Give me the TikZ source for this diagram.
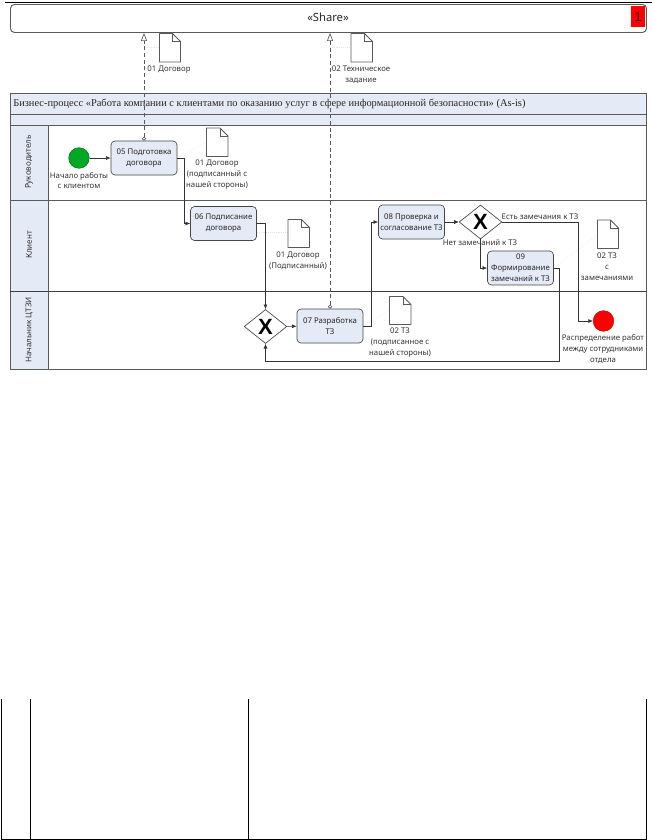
\documentclass[tikz,border=0pt]{standalone}
\usepackage{fontspec}
\setmainfont{Noto Sans}
\newfontfamily\titlefont{Liberation Serif}
\newfontfamily\gatefont{Liberation Sans}
\newfontfamily\numfont{Liberation Sans}
\usetikzlibrary{arrows.meta,shapes.geometric}
\definecolor{band}{RGB}{229,235,246}
\definecolor{task}{RGB}{228,234,246}
\definecolor{ln}{RGB}{70,70,70}
\definecolor{frame}{RGB}{90,90,90}
\tikzset{
  x=0.75pt,y=-0.75pt,
  txt/.style={font=\fontsize{5.85}{8.2}\selectfont,align=center,inner sep=0pt,text=black!80},
  taskbox/.style={draw=ln,fill=task,rounded corners=3pt,line width=.5pt,minimum width=49.5pt,minimum height=25.5pt,inner sep=0pt,align=center,font=\fontsize{5.85}{8.2}\selectfont,text=black!85},
  gate/.style={diamond,draw=ln,fill=white,line width=.5pt,minimum width=32pt,minimum height=25.5pt,inner sep=0pt,aspect=1.26},
  gatex/.style={font=\gatefont\bfseries\fontsize{16.5}{17}\selectfont,inner sep=0pt,text=black},
  flow/.style={draw=black!80,line width=.45pt,-{Latex[length=3.5pt,width=3pt]}},
  msg/.style={draw=black!65,line width=.5pt,dashed,dash pattern=on 3pt off 2pt,{Circle[open,length=3pt,width=3pt,fill=white]}-{Triangle[open,length=6pt,width=4.5pt,fill=white]}},
  assoc/.style={draw=black!10,line width=.4pt,densely dotted},
  lane/.style={draw=frame,line width=.7pt},
  header/.style={draw=frame,fill=band,line width=.7pt},
  rot/.style={rotate=90,font=\fontsize{6}{8}\selectfont,inner sep=0pt,text=black!80},
  tbl/.style={draw=black,line width=.7pt},
}
\newcommand{\docshape}[5]{% name x1 y1 x2 y2
  \path (#2,#3) coordinate (#1nw) (#4,#5) coordinate (#1se);
  \node[inner sep=0pt,minimum size=0pt] (#1) at ({(#2+#4)/2},{(#3+#5)/2}) {};
  \draw[draw=black!65,fill=white,line width=.55pt,line join=round] (#2,#3) -- ({#4-8},#3) -- (#4,{#3+8}) -- (#4,#5) -- (#2,#5) -- cycle;
  \draw[draw=black!65,line width=.45pt] ({#4-8},#3) -- ({#4-8},{#3+8}) -- (#4,{#3+8});
}
\begin{document}
\begin{tikzpicture}
\useasboundingbox (0,0) rectangle (652,840);
% page rule
\draw[black,line width=1.1pt] (5,2.5) -- (652,2.5);
% share pool
\node[draw=frame,fill=white,rounded corners=3pt,line width=.7pt,minimum width=477pt,minimum height=21pt,inner sep=0pt,anchor=north west] (share) at (10,4) {};
\node[font=\fontsize{8.4}{10}\selectfont,inner sep=0pt,text=black!85] (sharetext) at (328,17.5) {«Share»};
\node[fill=red,minimum width=10.5pt,minimum height=15.5pt,inner sep=0pt,font=\numfont\fontsize{10}{10}\selectfont,text=black!75!red] (num) at (638,16.5) {1};
% main pool
\draw[header] (10,93) rectangle (646,114);
\draw[header] (10,114) rectangle (646,125);
\node[anchor=west,inner sep=0pt,font=\titlefont\fontsize{7.82}{9}\selectfont,text=black!85] (title) at (13,103.5) {Бизнес-процесс «Работа компании с клиентами по оказанию услуг в сфере информационной безопасности» (As-is)};
\draw[lane,fill=white] (10,125) rectangle (646,369);
\draw[header] (10,125) rectangle (48,369);
\draw[lane] (10,200) -- (646,200);
\draw[draw=black!75,line width=.7pt] (10,291) -- (646,291);
\node[rot] (l1) at (29,162) {Руководитель};
\node[rot] (l2) at (29,245) {Клиент};
\node[rot] (l3) at (29,330) {Начальник ЦТЗИ};
% associations
\draw[assoc] (147,47) -- (159,47);
\draw[assoc] (177,158) -- (206,142);
\draw[assoc] (257,232) -- (288,232);
\draw[assoc] (363,326) -- (389,310);
\draw[assoc] (554,268) -- (597,235);
\draw[assoc] (330,47) -- (351,47);
% documents
\docshape{da}{159.5}{33.5}{180.5}{62}
\docshape{db}{351}{33.5}{372.5}{62}
\docshape{dc}{206.5}{128}{228}{156.5}
\docshape{dd}{288}{219.5}{309.5}{247.5}
\docshape{de}{389.5}{296.5}{411}{324.5}
\docshape{df}{597.5}{220}{618.5}{248.5}
\node[txt] (ta) at (169,69.5) {01 Договор};
\node[txt] (tb) at (361,75) {02 Техническое\\задание};
\node[txt] (tc) at (217,175) {01 Договор\\(подписанный с\\нашей стороны)};
\node[txt] (td) at (298,260.5) {01 Договор\\(Подписанный)};
\node[txt] (te) at (400,343) {02 ТЗ\\(подписанное с\\нашей стороны)};
\node[txt] (tf) at (607,267) {02 ТЗ\\с\\замечаниями};
% events
\node[circle,fill=green!60!black!85!cyan,draw=green!40!black,line width=.3pt,minimum size=15.5pt,inner sep=0pt] (start) at (79,158) {};
\node[circle,fill=red,draw=red!70!black,line width=.3pt,minimum size=15.5pt,inner sep=0pt] (stop) at (603.5,321) {};
\node[txt] (ts) at (79,180.5) {Начало работы\\с клиентом};
\node[txt] (te2) at (603,349) {Распределение работ\\между сотрудниками\\отдела};
% tasks
\node[taskbox] (t5) at (144,158) {05 Подготовка\\договора};
\node[taskbox] (t6) at (223.5,223.5) {06 Подписание\\договора};
\node[taskbox] (t7) at (330,326) {07 Разработка\\ТЗ};
\node[taskbox] (t8) at (411.5,222) {08 Проверка и\\согласование ТЗ};
\node[taskbox] (t9) at (520.5,268) {09\\Формирование\\замечаний к ТЗ};
% gateways
\node[gate] (g1) at (265.5,326.5) {};
\node[gate] (g2) at (480.5,222) {};
\node[gatex] (x1) at (g1) {X};
\node[gatex] (x2) at (g2) {X};
% message flows
\draw[msg] (t5.north) -- (share.south -| t5.north);
\draw[msg] (t7.north) -- (share.south -| t7.north);
% sequence flows
\draw[flow] (start) -- (t5);
\draw[flow] (t5.east) -- (184,158) -- (184,223.5) -- (t6.west);
\draw[flow] (t6.east) -- (g1.north |- t6.east) -- (g1.north);
\draw[flow] (g1) -- (t7);
\draw[flow] (t7.east) -- (371,326) -- (371,222) -- (t8.west);
\draw[flow] (t8) -- (g2);
\draw[flow] (g2.east) -- (578,222) -- (578,321) -- (stop.west);
\draw[flow] (g2.south) -- (g2.south |- t9.west) -- (t9.west);
\draw[flow] (t9.east) -- (559.5,268) -- (559.5,361) -- (265.5,361) -- (g1.south);
\node[txt] (yes) at (540,217) {Есть замечания к ТЗ};
\node[txt] (no) at (480,243) {Нет замечаний к ТЗ};
% bottom table
\draw[tbl] (1,699) -- (1,839) -- (646,839) -- (646,699);
\draw[tbl] (30,699) -- (30,839);
\draw[tbl] (248,699) -- (248,839);
\end{tikzpicture}
\end{document}
